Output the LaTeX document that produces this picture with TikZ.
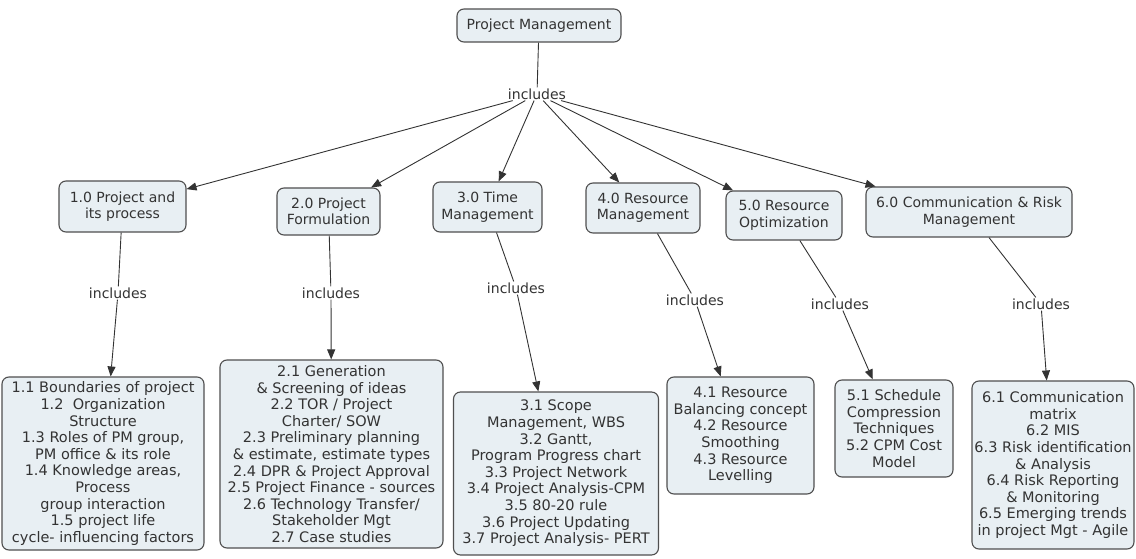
\documentclass[tikz,border=0pt]{standalone}
\usepackage{fontspec}
\setmainfont{DejaVu Sans}
\usepackage{tikz}
\usetikzlibrary{arrows.meta}
\definecolor{boxfill}{HTML}{E8EFF3}
\definecolor{boxline}{HTML}{4F4F4F}
\definecolor{inkcolor}{HTML}{333333}
\tikzset{
  topic/.style={draw=boxline, line width=1.1pt, rounded corners=7pt, fill=boxfill, text=inkcolor, font=\fontsize{14}{16.5}\selectfont, align=center, inner sep=2pt},
  leaf/.style={topic, font=\fontsize{14.5}{16.6}\selectfont},
  lnk/.style={font=\fontsize{14}{16.5}\selectfont, text=inkcolor, inner sep=1pt},
  rel/.style={draw=inkcolor, line width=0.9pt},
  flow/.style={rel, -{Triangle[length=10pt,width=8pt]}},
}
\begin{document}
\begin{tikzpicture}[x=1pt,y=-1pt]
\useasboundingbox (0,0) rectangle (1136,559);
\node[topic, minimum width=164pt, minimum height=33pt] (pm) at (539,25.5) {Project Management};
\node[lnk] (inc) at (537,94) {includes};
\node[topic, minimum width=127pt, minimum height=51pt] (t1) at (122.5,206.5) {1.0 Project and\\its process};
\node[topic, minimum width=103pt, minimum height=47pt] (t2) at (328.5,211.5) {2.0 Project\\Formulation};
\node[topic, minimum width=109pt, minimum height=50pt] (t3) at (487.5,207) {3.0 Time\\Management};
\node[topic, minimum width=114pt, minimum height=50pt] (t4) at (643,208) {4.0 Resource\\Management};
\node[topic, minimum width=116pt, minimum height=49pt] (t5) at (784,215.5) {5.0 Resource\\Optimization};
\node[topic, minimum width=206pt, minimum height=50pt] (t6) at (969,212) {6.0 Communication \& Risk\\Management};
\node[lnk] (i1) at (118,293) {includes};
\node[lnk] (i2) at (331,293) {includes};
\node[lnk] (i3) at (516,288) {includes};
\node[lnk] (i4) at (695,300) {includes};
\node[lnk] (i5) at (840,304) {includes};
\node[lnk] (i6) at (1041,304) {includes};
\node[leaf, minimum width=202pt, minimum height=173pt] (s1) at (103,463.5) {1.1 Boundaries of project\\1.2\ \ Organization\\Structure\\1.3 Roles of PM group,\\PM office \& its role\\1.4 Knowledge areas,\\Process\\group interaction\\1.5 project life\\cycle- influencing factors};
\node[leaf, minimum width=223pt, minimum height=188pt] (s2) at (331.5,454) {2.1 Generation\\\& Screening of ideas\\2.2 TOR / Project\\Charter/ SOW\\2.3 Preliminary planning\\\& estimate, estimate types\\2.4 DPR \& Project Approval\\2.5 Project Finance - sources\\2.6 Technology Transfer/\\Stakeholder Mgt\\2.7 Case studies};
\node[leaf, minimum width=205pt, minimum height=163pt] (s3) at (556,473.5) {3.1 Scope\\Management, WBS\\3.2 Gantt,\\Program Progress chart\\3.3 Project Network\\3.4 Project Analysis-CPM\\3.5 80-20 rule\\3.6 Project Updating\\3.7 Project Analysis- PERT};
\node[leaf, minimum width=147pt, minimum height=117pt] (s4) at (740.5,435.5) {4.1 Resource\\Balancing concept\\4.2 Resource\\Smoothing\\4.3 Resource\\Levelling};
\node[leaf, minimum width=118pt, minimum height=97pt] (s5) at (894,428.5) {5.1 Schedule\\Compression\\Techniques\\5.2 CPM Cost\\Model};
\node[leaf, minimum width=162pt, minimum height=168pt] (s6) at (1053,465) {6.1 Communication\\matrix\\6.2 MIS\\6.3 Risk identification\\\& Analysis\\6.4 Risk Reporting\\\& Monitoring\\6.5 Emerging trends\\in project Mgt - Agile};
\draw[rel] (pm) -- (inc);
\draw[flow] (inc) -- (t1);
\draw[flow] (inc) -- (t2);
\draw[flow] (inc) -- (t3);
\draw[flow] (inc) -- (t4);
\draw[flow] (inc) -- (t5);
\draw[flow] (inc) -- (t6);
\draw[rel] (t1) -- (i1);
\draw[rel] (t2) -- (i2);
\draw[rel] (t3) -- (i3);
\draw[rel] (t4) -- (i4);
\draw[rel] (t5) -- (i5);
\draw[rel] (t6) -- (i6);
\draw[flow] (i1) -- (s1);
\draw[flow] (i2) -- (s2);
\draw[flow] (i3) -- (s3);
\draw[flow] (i4) -- (s4);
\draw[flow] (i5) -- (s5);
\draw[flow] (i6) -- (s6);
\end{tikzpicture}
\end{document}
